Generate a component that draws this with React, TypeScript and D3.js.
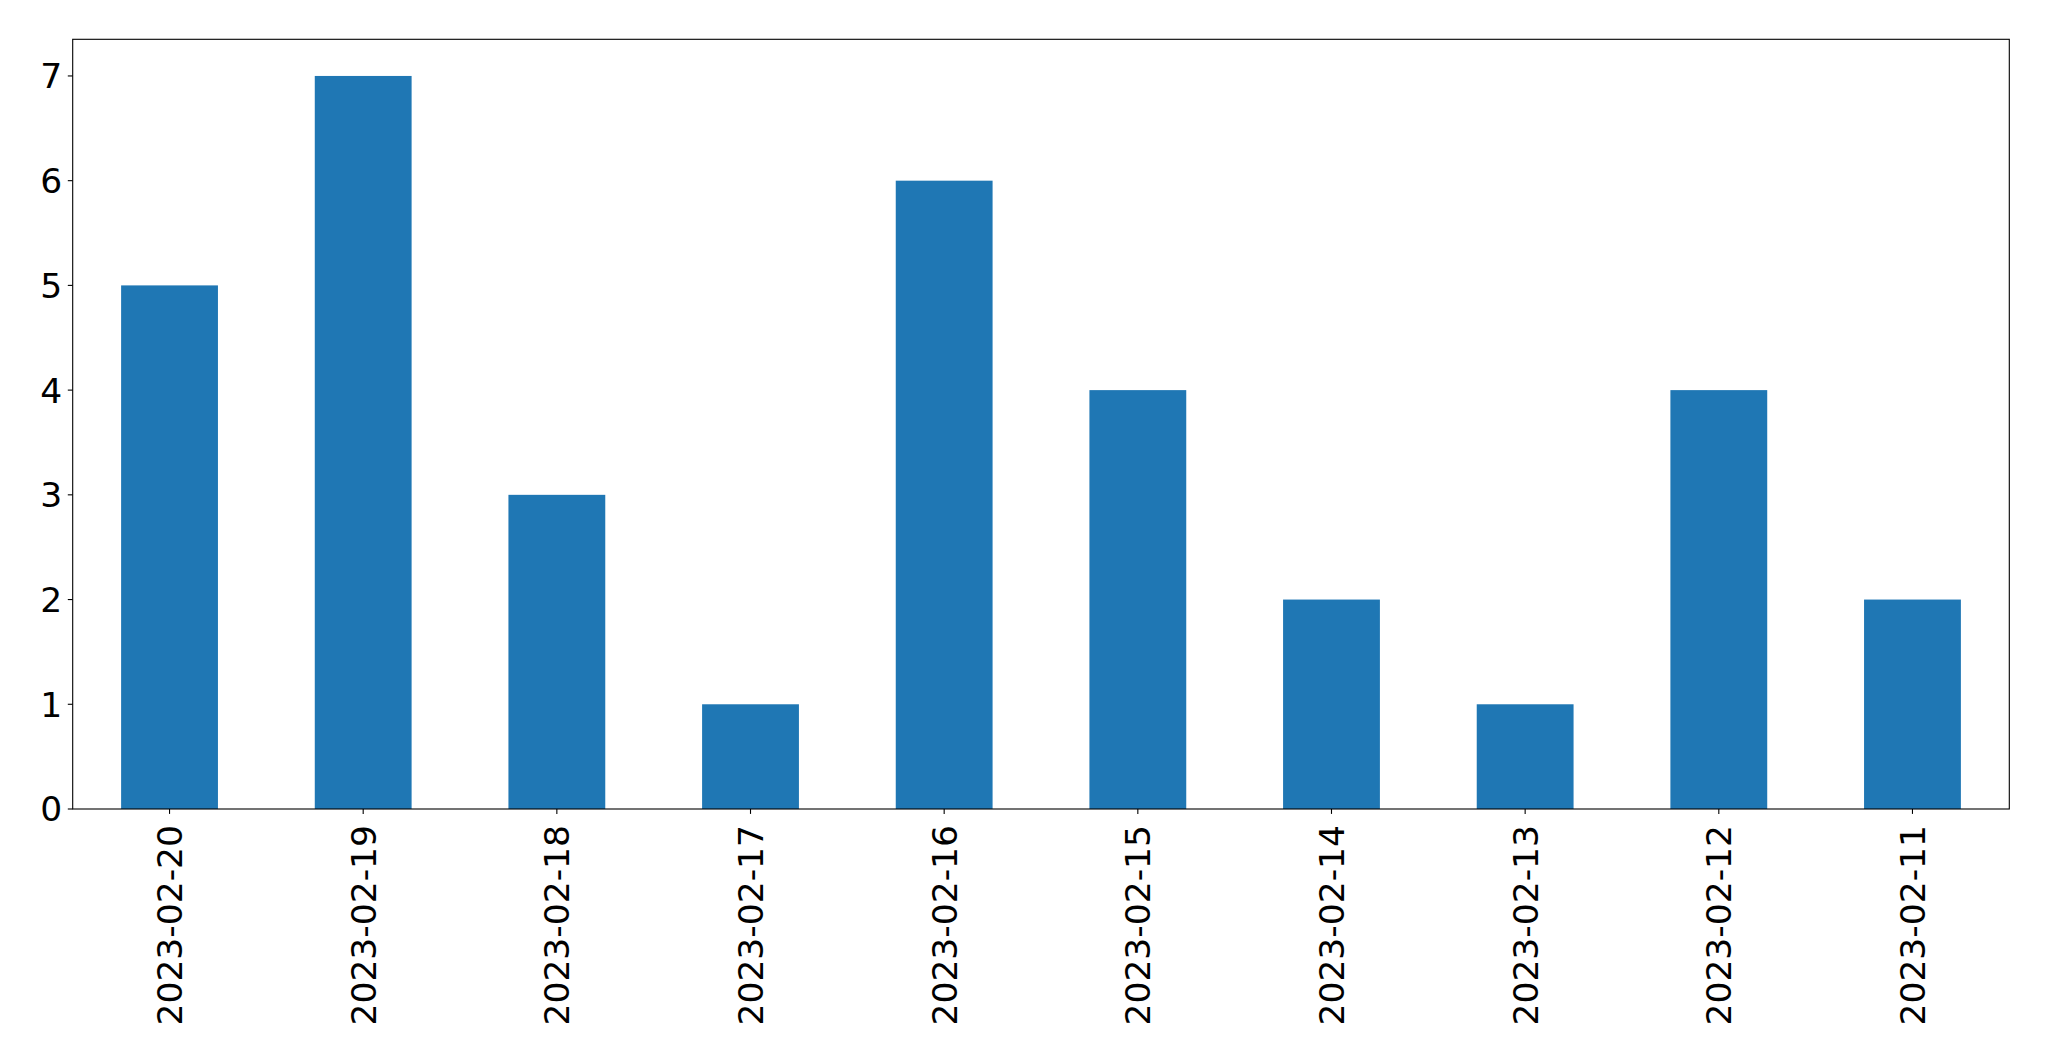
import React, { useEffect, useRef } from "react";
import * as d3 from "d3";

const categories = ["2023-02-20", "2023-02-19", "2023-02-18", "2023-02-17", "2023-02-16", "2023-02-15", "2023-02-14", "2023-02-13", "2023-02-12", "2023-02-11"];
const values = [5, 7, 3, 1, 6, 4, 2, 1, 4, 2];
const yTicks = [0, 1, 2, 3, 4, 5, 6, 7];

const W = 2049;
const H = 1061;
const M = { left: 72.7, top: 39.3, right: 2009.3, bottom: 809 };
const FONT = "DejaVu Sans, sans-serif";
const FS = 34.5;

export default function App() {
  const ref = useRef<SVGSVGElement>(null);
  useEffect(() => {
    const svg = d3.select(ref.current);
    svg.selectAll("*").remove();
    const x = d3.scaleLinear().domain([-0.5, categories.length - 0.5]).range([M.left, M.right]);
    const y = d3.scaleLinear().domain([0, 7.35]).range([M.bottom, M.top]);
    const bw = x(0.5) - x(0);

    svg.append("rect").attr("x", 0).attr("y", 0).attr("width", W).attr("height", H).attr("fill", "white");

    svg.append("g").selectAll("rect").data(values).join("rect")
      .attr("x", (_d, i) => x(i) - bw / 2)
      .attr("y", (d) => y(d))
      .attr("width", bw)
      .attr("height", (d) => y(0) - y(d))
      .attr("fill", "#1f77b4");

    svg.append("rect")
      .attr("x", M.left).attr("y", M.top)
      .attr("width", M.right - M.left).attr("height", M.bottom - M.top)
      .attr("fill", "none").attr("stroke", "black").attr("stroke-width", 1.1);

    const yg = svg.append("g");
    yTicks.forEach((t) => {
      yg.append("line").attr("x1", M.left - 4.9).attr("x2", M.left).attr("y1", y(t)).attr("y2", y(t)).attr("stroke", "black").attr("stroke-width", 1.1);
      yg.append("text").attr("x", M.left - 10.5).attr("y", y(t)).attr("dy", "0.36em")
        .attr("text-anchor", "end").attr("font-family", FONT).attr("font-size", FS).text(String(t));
    });

    const xg = svg.append("g");
    categories.forEach((c, i) => {
      const cx = x(i);
      xg.append("line").attr("x1", cx).attr("x2", cx).attr("y1", M.bottom).attr("y2", M.bottom + 4.9).attr("stroke", "black").attr("stroke-width", 1.1);
      xg.append("text")
        .attr("transform", `translate(${cx},${M.bottom + 16}) rotate(-90)`)
        .attr("dy", "0.36em")
        .attr("text-anchor", "end").attr("font-family", FONT).attr("font-size", FS).text(c);
    });
  }, []);

  return (
    <svg ref={ref} width={W} height={H} style={{ position: "absolute", left: 0, top: 0, display: "block" }} />
  );
}
